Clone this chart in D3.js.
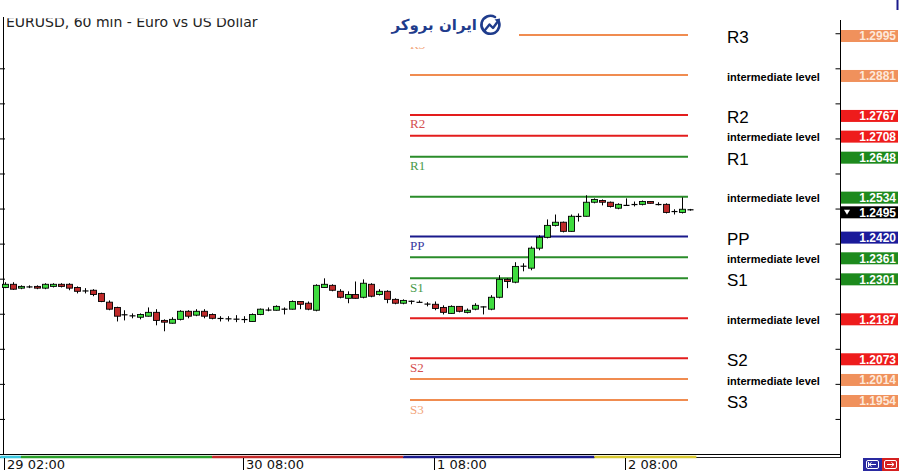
<!DOCTYPE html>
<html><head><meta charset="utf-8">
<script src="https://cdn.jsdelivr.net/npm/d3@7"></script>
<style>body{margin:0;background:#fff} svg{display:block}</style>
</head><body>
<svg id="c" width="900" height="471"></svg>
<script>
// ---- DATA ----
// hourly candles [open, high, low, close], starting 29 02:00
const ohlc = [
[1.2275,1.2290,1.2273,1.2284],[1.2284,1.2290,1.2268,1.2270],[1.2273,1.2281,1.2270,1.2278],[1.2277,1.2281,1.2273,1.2276],
[1.2278,1.2281,1.2270,1.2273],[1.2273,1.2287,1.2270,1.2284],[1.2278,1.2287,1.2275,1.2284],[1.2284,1.2287,1.2275,1.2278],
[1.2284,1.2287,1.2267,1.2273],[1.2275,1.2278,1.2258,1.2264],[1.2266,1.2273,1.2258,1.2264],[1.2267,1.2270,1.2250,1.2255],
[1.2258,1.2260,1.2233,1.2235],[1.2233,1.2238,1.2210,1.2213],[1.2218,1.2220,1.2178,1.2193],[1.2198,1.2210,1.2181,1.2196],
[1.2195,1.2201,1.2187,1.2193],[1.2190,1.2201,1.2184,1.2198],[1.2193,1.2218,1.2192,1.2204],[1.2204,1.2213,1.2167,1.2181],
[1.2181,1.2184,1.2150,1.2176],[1.2173,1.2190,1.2172,1.2184],[1.2184,1.2210,1.2181,1.2207],[1.2207,1.2210,1.2187,1.2193],
[1.2196,1.2213,1.2193,1.2207],[1.2207,1.2213,1.2187,1.2193],[1.2198,1.2201,1.2184,1.2187],[1.2187,1.2193,1.2178,1.2186],
[1.2186,1.2193,1.2178,1.2185],[1.2185,1.2196,1.2176,1.2184],[1.2184,1.2193,1.2174,1.2183],[1.2178,1.2201,1.2177,1.2198],
[1.2198,1.2215,1.2196,1.2213],[1.2211,1.2218,1.2207,1.2210],[1.2210,1.2224,1.2209,1.2221],[1.2215,1.2218,1.2198,1.2211],
[1.2213,1.2238,1.2212,1.2235],[1.2235,1.2236,1.2213,1.2227],[1.2230,1.2235,1.2210,1.2213],[1.2210,1.2284,1.2207,1.2281],
[1.2275,1.2301,1.2274,1.2284],[1.2281,1.2284,1.2264,1.2267],[1.2264,1.2270,1.2244,1.2247],[1.2244,1.2264,1.2230,1.2255],
[1.2255,1.2292,1.2243,1.2244],[1.2247,1.2298,1.2244,1.2287],[1.2284,1.2287,1.2247,1.2250],[1.2255,1.2270,1.2252,1.2264],
[1.2264,1.2267,1.2230,1.2241],[1.2241,1.2244,1.2227,1.2230],[1.2230,1.2241,1.2227,1.2238],[1.2236,1.2238,1.2227,1.2235],
[1.2233,1.2238,1.2232,1.2232],[1.2228,1.2233,1.2221,1.2227],[1.2227,1.2235,1.2210,1.2215],[1.2218,1.2224,1.2198,1.2204],
[1.2201,1.2224,1.2200,1.2221],[1.2221,1.2222,1.2204,1.2207],[1.2204,1.2215,1.2201,1.2210],[1.2213,1.2230,1.2210,1.2224],
[1.2219,1.2221,1.2198,1.2220],[1.2213,1.2253,1.2210,1.2247],[1.2247,1.2310,1.2244,1.2298],[1.2298,1.2301,1.2273,1.2292],
[1.2290,1.2347,1.2287,1.2335],[1.2336,1.2344,1.2321,1.2335],[1.2330,1.2392,1.2324,1.2387],[1.2387,1.2424,1.2381,1.2418],
[1.2418,1.2469,1.2415,1.2452],[1.2452,1.2483,1.2449,1.2461],[1.2461,1.2463,1.2432,1.2435],[1.2435,1.2483,1.2434,1.2478],
[1.2478,1.2486,1.2463,1.2477],[1.2478,1.2538,1.2477,1.2518],[1.2518,1.2529,1.2515,1.2526],[1.2523,1.2526,1.2509,1.2518],
[1.2518,1.2520,1.2503,1.2506],[1.2501,1.2515,1.2498,1.2512],[1.2509,1.2529,1.2508,1.2509],[1.2512,1.2520,1.2506,1.2511],
[1.2512,1.2523,1.2509,1.2520],[1.2520,1.2521,1.2514,1.2515],[1.2512,1.2518,1.2509,1.2511],[1.2512,1.2515,1.2486,1.2489],
[1.2492,1.2498,1.2483,1.2491],[1.2489,1.2532,1.2486,1.2498],[1.2498,1.2499,1.2494,1.2495]
];
const levels      = [1.2995,1.2881,1.2767,1.2708,1.2648,1.2534,1.2420,1.2361,1.2301,1.2187,1.2073,1.2014,1.1954];
const levelNames  = ["R3","intermediate level","R2","intermediate level","R1","intermediate level","PP",
                     "intermediate level","S1","intermediate level","S2","intermediate level","S3"];
const levelColors = ["orange","orange","red","red","green","green","navy","green","green","red","red","orange","orange"];
const levelLabels = ["1.2995","1.2881","1.2767","1.2708","1.2648","1.2534","1.2420","1.2361","1.2301","1.2187","1.2073","1.2014","1.1954"];
const lastPrice = 1.2495;
const lastLabel = "1.2495";
const yTickValues = [1.19,1.20,1.21,1.22,1.23,1.24,1.25,1.26,1.27,1.28,1.29,1.30];
const xTickIndex  = [0,30,54,78];
const xTickLabels = ["29 02:00","30 08:00","1 08:00","2 08:00"];
const dayBreaks   = [-0.6,2,26,50,74,86.8];
const dayColors   = ["#3cc8e0","#2aa02a","#c42a2a","#1a1a8c","#d8c830"];
const title = "EURUSD, 60 min - Euro vs US Dollar";
const brand = "ایران بروکر";

// ---- STYLE ----
const lineCol = {orange:"#f08c50", red:"#e31d1d", green:"#2a8c2a", navy:"#1a1a8c"};
const boxCol  = {orange:"#f0915c", red:"#ee1c1c", green:"#1d8a1d", navy:"#1a1a9a"};
const txtCol  = {orange:"#f2a57a", red:"#d45050", green:"#4a9a4a", navy:"#3838a0"};

const svg = d3.select("#c");
const x = d3.scaleLinear().domain([0,86]).range([5,690]);
const y = d3.scaleLinear().domain([1.2995,1.1954]).range([35,400]);

// title
svg.append("text").attr("x",6).attr("y",27).attr("font-family","DejaVu Sans").attr("font-size",14)
  .attr("fill","#222").text(title);
svg.append("rect").attr("x",0).attr("y",0).attr("width",380).attr("height",18.3).attr("fill","#fff");

// frame
svg.append("line").attr("x1",3.5).attr("x2",3.5).attr("y1",17).attr("y2",455).attr("stroke","#000");
svg.append("line").attr("x1",840.5).attr("x2",840.5).attr("y1",20).attr("y2",458).attr("stroke","#000");
svg.append("line").attr("x1",0).attr("x2",840).attr("y1",454.5).attr("y2",454.5).attr("stroke","#000");
svg.append("line").attr("x1",0).attr("x2",840).attr("y1",457.5).attr("y2",457.5).attr("stroke","#222");
svg.append("line").attr("x1",897.5).attr("x2",897.5).attr("y1",0).attr("y2",10).attr("stroke","#1a1a8c").attr("stroke-width",2);

// y ticks left and right
const rAxis = d3.axisLeft(y).tickValues(yTickValues).tickSize(5).tickFormat("");
const gR = svg.append("g").attr("transform","translate(840.5,0)").call(rAxis);
gR.select(".domain").remove();
const lAxis = d3.axisRight(y).tickValues(yTickValues).tickSize(5).tickFormat("");
const gL = svg.append("g").attr("transform","translate(0,0)").call(lAxis);
gL.select(".domain").remove();
gL.selectAll("line").filter(d=>d>1.2995).remove();

// day strip
for(let i=0;i<dayColors.length;i++){
  svg.append("line").attr("x1",Math.max(0,x(dayBreaks[i]))).attr("x2",x(dayBreaks[i+1]))
    .attr("y1",457).attr("y2",457).attr("stroke",dayColors[i]).attr("stroke-width",2.6);
}

// x axis
const xg = svg.append("g");
xTickIndex.forEach((d,i)=>{
  const xx = Math.round(x(d))-0.5;
  xg.append("line").attr("x1",xx).attr("x2",xx).attr("y1",458).attr("y2",470).attr("stroke","#000");
  xg.append("text").attr("x",xx+2.5).attr("y",469).attr("font-family","DejaVu Sans").attr("font-size",13)
    .attr("fill","#111").text(xTickLabels[i]);
});

// level lines
levels.forEach((v,i)=>{
  svg.append("line").attr("x1",410).attr("x2",688).attr("y1",y(v)).attr("y2",y(v))
    .attr("stroke",lineCol[levelColors[i]]).attr("stroke-width",2);
});
// left serif labels
levels.forEach((v,i)=>{
  if(levelNames[i]==="intermediate level") return;
  svg.append("text").attr("x",410).attr("y",y(v)+13.5).attr("font-family","Liberation Serif")
    .attr("font-size",13).attr("fill",txtCol[levelColors[i]]).text(levelNames[i]);
});

// candles
const cg = svg.append("g");
ohlc.forEach((c,i)=>{
  const [o,h,l,cl] = c;
  const xc = Math.round(x(i))+0.5;
  cg.append("line").attr("x1",xc).attr("x2",xc).attr("y1",y(h)).attr("y2",y(l)).attr("stroke","#000");
  const top = y(Math.max(o,cl)), bot = y(Math.min(o,cl));
  if(bot-top < 1.6){
    cg.append("line").attr("x1",xc-3).attr("x2",xc+3).attr("y1",(top+bot)/2).attr("y2",(top+bot)/2)
      .attr("stroke","#000").attr("stroke-width",1.2);
  } else {
    cg.append("rect").attr("x",xc-3).attr("y",top).attr("width",6).attr("height",bot-top)
      .attr("fill", cl>=o ? "#3fdc3f" : "#bf2a2a").attr("stroke","#000").attr("stroke-width",0.9);
  }
});

// right descriptive labels
levels.forEach((v,i)=>{
  const big = levelNames[i]!=="intermediate level";
  svg.append("text").attr("x",727).attr("y",y(v)+2).attr("dy","0.35em")
    .attr("font-family","Liberation Sans").attr("font-size",big?17:11).attr("font-weight",big?"normal":"bold")
    .attr("fill","#000").text(levelNames[i]);
});

// price boxes
levels.forEach((v,i)=>{
  const yc = y(v)+1;
  svg.append("rect").attr("x",841).attr("y",yc-6).attr("width",57).attr("height",12).attr("fill",boxCol[levelColors[i]]);
  svg.append("text").attr("x",896).attr("y",yc).attr("dy","0.36em").attr("text-anchor","end")
    .attr("font-family","Liberation Sans").attr("font-size",12).attr("font-weight","bold")
    .attr("fill", levelColors[i]==="orange" ? "#fde8da" : "#fff").text(levelLabels[i]);
});
{
  const yc = y(lastPrice)+2;
  svg.append("rect").attr("x",841).attr("y",yc-6).attr("width",57).attr("height",12).attr("fill","#000");
  svg.append("text").attr("x",896).attr("y",yc).attr("dy","0.36em").attr("text-anchor","end")
    .attr("font-family","Liberation Sans").attr("font-size",12).attr("font-weight","bold").attr("fill","#fff").text(lastLabel);
  svg.append("path").attr("d",`M844,${yc-2.5} L850,${yc-2.5} L847,${yc+2.5} Z`).attr("fill","#fff");
}

// bottom-right buttons
svg.append("rect").attr("x",863).attr("y",458).attr("width",19).attr("height",13).attr("fill","#2a2aa0");
svg.append("rect").attr("x",882).attr("y",458).attr("width",17).attr("height",13).attr("fill","#d42020");
svg.append("rect").attr("x",866.5).attr("y",460.5).attr("width",12).attr("height",8).attr("rx",1.5).attr("fill","none").attr("stroke","#fff");
svg.append("rect").attr("x",884.5).attr("y",460.5).attr("width",12).attr("height",8).attr("rx",1.5).attr("fill","none").attr("stroke","#fff");
svg.append("path").attr("d","M869,464.5 L876,464.5 M869,464.5 L871.5,462.5 M869,464.5 L871.5,466.5 M868.5,462 L868.5,467").attr("stroke","#fff").attr("fill","none");
svg.append("path").attr("d","M887,464.5 L894,464.5 M894,464.5 L891.5,462.5 M894,464.5 L891.5,466.5").attr("stroke","#fff").attr("fill","none");

// brand logo (white backdrop covers most of the R3 label)
svg.append("rect").attr("x",385).attr("y",0).attr("width",134).attr("height",47).attr("fill","#fff");
svg.append("text").attr("x",477).attr("y",30).attr("text-anchor","end").attr("font-family","DejaVu Sans")
  .attr("font-size",15).attr("font-weight","bold").attr("fill","#1f3c8c").text(brand);
svg.append("path").attr("d","M499,22 A9,9 0 1 1 495,17").attr("fill","none").attr("stroke","#1f3c8c").attr("stroke-width",2.6).attr("stroke-linecap","round");
svg.append("path").attr("d","M485,30 L489.5,24.5 L493,28 L498.5,20.5").attr("fill","none").attr("stroke","#1f3c8c").attr("stroke-width",2.4).attr("stroke-linecap","round").attr("stroke-linejoin","round");
svg.append("path").attr("d","M494.5,19.5 L500,18.5 L499.5,24 Z").attr("fill","#1f3c8c");
</script>
</body></html>
